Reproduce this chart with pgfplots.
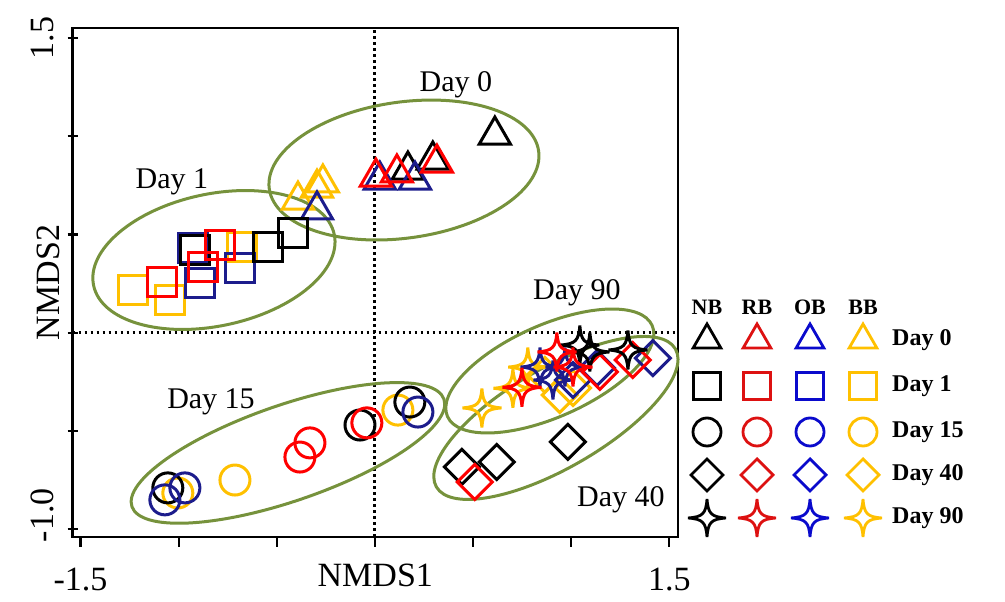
\documentclass[border=0pt]{standalone}
\usepackage{pgfplots}
\pgfplotsset{compat=1.18}
\usepackage{fontspec}
\setmainfont{Liberation Serif}

\definecolor{pred}{HTML}{FF0000}
\definecolor{pnavy}{HTML}{1C1C8C}
\definecolor{pgold}{HTML}{FFC000}
\definecolor{lred}{HTML}{DD1111}
\definecolor{lblue}{HTML}{0A0ACC}
\definecolor{egreen}{HTML}{76923C}

\pgfdeclareplotmark{rdiamond}{%
  \pgfpathmoveto{\pgfqpoint{0pt}{\pgfplotmarksize}}%
  \pgfpathlineto{\pgfqpoint{\pgfplotmarksize}{0pt}}%
  \pgfpathlineto{\pgfqpoint{0pt}{-\pgfplotmarksize}}%
  \pgfpathlineto{\pgfqpoint{-\pgfplotmarksize}{0pt}}%
  \pgfpathclose
  \pgfusepathqstroke
}
\pgfdeclareplotmark{star4}{%
  \pgfpathmoveto{\pgfqpoint{0pt}{\pgfplotmarksize}}%
  \pgfpathcurveto{\pgfqpoint{0.06\pgfplotmarksize}{0.22\pgfplotmarksize}}{\pgfqpoint{0.22\pgfplotmarksize}{0.06\pgfplotmarksize}}{\pgfqpoint{\pgfplotmarksize}{0pt}}%
  \pgfpathcurveto{\pgfqpoint{0.22\pgfplotmarksize}{-0.06\pgfplotmarksize}}{\pgfqpoint{0.06\pgfplotmarksize}{-0.22\pgfplotmarksize}}{\pgfqpoint{0pt}{-\pgfplotmarksize}}%
  \pgfpathcurveto{\pgfqpoint{-0.06\pgfplotmarksize}{-0.22\pgfplotmarksize}}{\pgfqpoint{-0.22\pgfplotmarksize}{-0.06\pgfplotmarksize}}{\pgfqpoint{-\pgfplotmarksize}{0pt}}%
  \pgfpathcurveto{\pgfqpoint{-0.22\pgfplotmarksize}{0.06\pgfplotmarksize}}{\pgfqpoint{-0.06\pgfplotmarksize}{0.22\pgfplotmarksize}}{\pgfqpoint{0pt}{\pgfplotmarksize}}%
  \pgfpathclose
  \pgfusepathqstroke
}

\pgfplotsset{
  tri/.style={only marks, mark=triangle, mark size=18pt, line width=3pt, mark options={solid}},
  sqr/.style={only marks, mark=square, mark size=14.5pt, line width=3pt, mark options={solid}},
  cir/.style={only marks, mark=o, mark size=15pt, line width=3pt, mark options={solid}},
  dia/.style={only marks, mark=rdiamond, mark size=17.5pt, line width=3pt, mark options={solid}},
  sta/.style={only marks, mark=star4, mark size=19.5pt, line width=3pt, mark options={solid}},
  ltri/.style={only marks, mark=triangle, mark size=16pt, line width=2.8pt, mark options={solid}},
  lsqr/.style={only marks, mark=square, mark size=13.5pt, line width=2.8pt, mark options={solid}},
  lcir/.style={only marks, mark=o, mark size=14pt, line width=2.8pt, mark options={solid}},
  ldia/.style={only marks, mark=rdiamond, mark size=16pt, line width=2.8pt, mark options={solid}},
  lsta/.style={only marks, mark=star4, mark size=19pt, line width=2.8pt, mark options={solid}},
}

\begin{document}
\begin{tikzpicture}[x=1pt,y=1pt]
\path (0,0) rectangle (1005,602);

% ---------- legend (drawn through an invisible axis in pixel units) ----------
\begin{axis}[at={(0pt,0pt)}, anchor=south west, scale only axis,
  width=1005pt, height=602pt, xmin=0, xmax=1005, ymin=0, ymax=602,
  hide axis, clip=false]
\addplot[ltri, color=black] coordinates {(707,262)};
\addplot[ltri, color=lred]  coordinates {(757,262)};
\addplot[ltri, color=lblue] coordinates {(810,262)};
\addplot[ltri, color=pgold] coordinates {(863,262)};
\addplot[lsqr, color=black] coordinates {(707,216)};
\addplot[lsqr, color=lred]  coordinates {(757,216)};
\addplot[lsqr, color=lblue] coordinates {(810,216)};
\addplot[lsqr, color=pgold] coordinates {(863,216)};
\addplot[lcir, color=black] coordinates {(707,170)};
\addplot[lcir, color=lred]  coordinates {(757,170)};
\addplot[lcir, color=lblue] coordinates {(810,170)};
\addplot[lcir, color=pgold] coordinates {(863,170)};
\addplot[ldia, color=black] coordinates {(707,127)};
\addplot[ldia, color=lred]  coordinates {(757,127)};
\addplot[ldia, color=lblue] coordinates {(810,127)};
\addplot[ldia, color=pgold] coordinates {(863,127)};
\addplot[lsta, color=black] coordinates {(707,84)};
\addplot[lsta, color=lred]  coordinates {(757,84)};
\addplot[lsta, color=lblue] coordinates {(810,84)};
\addplot[lsta, color=pgold] coordinates {(863,84)};
\begin{scope}[font=\fontsize{22}{26}\selectfont\bfseries]
\node at (axis cs:707,295) {NB};
\node at (axis cs:757,295) {RB};
\node at (axis cs:810,295) {OB};
\node at (axis cs:863,295) {BB};
\end{scope}
\begin{scope}[font=\fontsize{24}{28}\selectfont\bfseries]
\node[anchor=west, inner sep=0pt] at (axis cs:892,262) {Day 0};
\node[anchor=west, inner sep=0pt] at (axis cs:892,216) {Day 1};
\node[anchor=west, inner sep=0pt] at (axis cs:892,170) {Day 15};
\node[anchor=west, inner sep=0pt] at (axis cs:892,127) {Day 40};
\node[anchor=west, inner sep=0pt] at (axis cs:892,84) {Day 90};
\end{scope}
\end{axis}

% ---------- main NMDS plot ----------
\begin{axis}[at={(72.6pt,65pt)}, anchor=south west, scale only axis,
  width=605.4pt, height=509pt,
  xmin=-1.540, xmax=1.544, ymin=-1.040, ymax=1.551,
  axis line style={line width=2.8pt},
  xtick={-1.5,-1,-0.5,0,0.5,1,1.5},
  xticklabels={\mbox{-1.5},,,,,,\mbox{1.5}},
  ytick={-1,-0.5,0,0.5,1,1.5},
  yticklabels={\mbox{\hspace*{28pt}-1.0},,,,,\mbox{1.5}},
  xtick pos=bottom, ytick pos=left,
  tick align=center, major tick length=10pt,
  tick style={line width=2.2pt, black},
  xtick style={yshift=-5pt},
  ticklabel style={font=\fontsize{34}{40}\selectfont},
  xticklabel style={anchor=center, yshift=-38pt},
  yticklabel style={rotate=90, anchor=center, yshift=25pt},
  label style={font=\fontsize{34}{40}\selectfont},
  xlabel={NMDS1}, ylabel={NMDS2},
  xlabel style={at={(axis description cs:0.5,0)}, anchor=center, yshift=-38pt},
  ylabel style={at={(axis description cs:-0.0406,0.5)}, anchor=center},
  clip=false]

% dotted reference lines
\addplot[black, line width=3pt, dash pattern=on 2.6pt off 3.4pt] coordinates {(0,-1.040) (0,1.551)};
\addplot[black, line width=3pt, dash pattern=on 2.6pt off 3.4pt] coordinates {(-1.540,0) (1.544,0)};

% Day 0 (triangles)
\addplot[tri, color=pgold] coordinates {(-0.392,0.675) (-0.295,0.736) (-0.265,0.762)};
\addplot[tri, color=black] coordinates {(0.168,0.828) (0.295,0.879) (0.611,1.006)};
\addplot[tri, color=pnavy] coordinates {(0.025,0.777) (0.204,0.777) (-0.295,0.625)};
\addplot[tri, color=pred]  coordinates {(0.005,0.792) (0.112,0.813) (0.316,0.863)};

% Day 1 (squares)
\addplot[sqr, color=pgold] coordinates {(-0.678,0.436) (-1.233,0.217) (-1.044,0.166)};
\addplot[sqr, color=pnavy] coordinates {(-0.927,0.431) (-0.688,0.329) (-0.891,0.253)};
\addplot[sqr, color=black] coordinates {(-0.418,0.508) (-0.545,0.436) (-0.917,0.421)};
\addplot[sqr, color=pred]  coordinates {(-0.790,0.446) (-0.876,0.334) (-1.085,0.258)};

% Day 15 (circles)
\addplot[cir, color=pgold] coordinates {(-1.004,-0.816) (-0.713,-0.750) (0.117,-0.394)};
\addplot[cir, color=black] coordinates {(-1.055,-0.790) (-0.076,-0.470) (0.178,-0.353)};
\addplot[cir, color=pnavy] coordinates {(-1.070,-0.851) (-0.968,-0.790) (0.219,-0.404)};
\addplot[cir, color=pred]  coordinates {(-0.382,-0.633) (-0.331,-0.561) (-0.041,-0.459)};

% Day 40 (diamonds)
\addplot[dia, color=pgold] coordinates {(0.866,-0.215) (0.942,-0.317) (1.009,-0.282)};
\addplot[dia, color=black] coordinates {(0.443,-0.683) (0.621,-0.658) (0.983,-0.556)};
\addplot[dia, color=pnavy] coordinates {(1.009,-0.241) (1.131,-0.180) (1.416,-0.129)};
\addplot[dia, color=pred]  coordinates {(0.509,-0.760) (1.146,-0.200) (1.314,-0.139)};

% Day 90 (four-pointed stars)
\addplot[sta, color=pgold] coordinates {(0.545,-0.383) (0.703,-0.283) (0.779,-0.175)};
\addplot[sta, color=black] coordinates {(1.044,-0.063) (1.095,-0.098) (1.289,-0.088)};
\addplot[sta, color=pnavy] coordinates {(0.841,-0.175) (0.907,-0.241) (0.968,-0.175)};
\addplot[sta, color=pred]  coordinates {(0.749,-0.278) (0.927,-0.098) (1.009,-0.175)};

% group ellipses
\draw[egreen, line width=3pt, rotate around={8:(axis cs:0.148,0.828)}]
  (axis cs:0.148,0.828) ellipse [x radius=136pt, y radius=68pt];
\draw[egreen, line width=3pt, rotate around={12:(axis cs:-0.820,0.370)}]
  (axis cs:-0.820,0.370) ellipse [x radius=123pt, y radius=66pt];
\draw[egreen, line width=3pt, rotate around={19:(axis cs:-0.443,-0.612)}]
  (axis cs:-0.443,-0.612) ellipse [x radius=165pt, y radius=48pt];
\draw[egreen, line width=3pt, rotate around={24:(axis cs:0.891,-0.195)}]
  (axis cs:0.891,-0.195) ellipse [x radius=112pt, y radius=46pt];
\draw[egreen, line width=3pt, rotate around={30:(axis cs:0.922,-0.434)}]
  (axis cs:0.922,-0.434) ellipse [x radius=138pt, y radius=50pt];

% group labels
\begin{scope}[font=\fontsize{30}{36}\selectfont]
\node at (axis cs:0.413,1.260) {Day 0};
\node at (axis cs:-1.034,0.767) {Day 1};
\node at (axis cs:-0.835,-0.353) {Day 15};
\node at (axis cs:1.029,0.202) {Day 90};
\node at (axis cs:1.253,-0.851) {Day 40};
\end{scope}
\end{axis}
\end{tikzpicture}
\end{document}
